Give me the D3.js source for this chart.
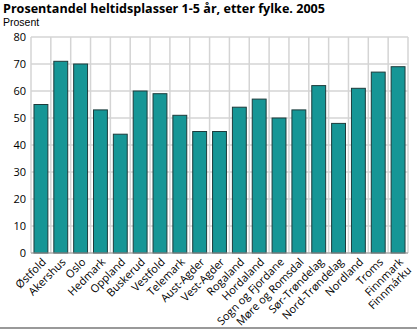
<!DOCTYPE html>
<html><head><meta charset="utf-8">
<script src="https://cdn.jsdelivr.net/npm/d3@7"></script>
<style>
body{margin:0;background:#fff;}
text{font-family:"Open Sans","DejaVu Sans",sans-serif;}
</style></head>
<body><svg id="c" width="417" height="330"></svg>
<script>
const categories = ["Østfold","Akershus","Oslo","Hedmark","Oppland","Buskerud","Vestfold","Telemark","Aust-Agder","Vest-Agder","Rogaland","Hordaland","Sogn og Fjordane","Møre og Romsdal","Sør-Trøndelag","Nord-Trøndelag","Nordland","Troms","Finnmark\nFinnmárku"];
const values = [55,71,70,53,44,60,59,51,45,45,54,57,50,53,62,48,61,67,69];
const yTicks = [0,10,20,30,40,50,60,70,80];

const svg = d3.select("#c");
const m = {l:31, r:408, t:37, b:253};
const x = d3.scaleBand().domain(categories).range([m.l, m.r]).paddingInner(0.3).paddingOuter(0.15);
const y = d3.scaleLinear().domain([0,80]).range([m.b, m.t]);

svg.append("text").attr("x",3).attr("y",12.5).attr("font-size",13).attr("font-weight","bold").attr("fill","#000")
  .attr("textLength",322).attr("lengthAdjust","spacingAndGlyphs")
  .text("Prosentandel heltidsplasser 1-5 år, etter fylke. 2005");
svg.append("text").attr("x",3).attr("y",26).attr("font-size",10.5).attr("fill","#000")
  .style("font-family","'Liberation Sans',Arial,sans-serif").text("Prosent");

// grid
const step = (m.r - m.l)/categories.length;
const g = svg.append("g");
g.selectAll("line.h").data(yTicks).join("line")
  .attr("x1",m.l).attr("x2",m.r).attr("y1",d=>y(d)).attr("y2",d=>y(d))
  .attr("stroke","#d4d4d4").attr("stroke-width",1.5);
g.selectAll("line.v").data(d3.range(categories.length+1)).join("line")
  .attr("x1",i=>m.l+i*step).attr("x2",i=>m.l+i*step).attr("y1",m.t).attr("y2",m.b)
  .attr("stroke","#d4d4d4").attr("stroke-width",1.5);

// y axis labels
const ya = svg.append("g").attr("transform",`translate(${m.l},0)`)
  .call(d3.axisLeft(y).tickValues(yTicks).tickSize(0).tickPadding(5));
ya.select(".domain").remove();
ya.selectAll("text").attr("font-size",11).attr("fill","#000").style("font-family","'Open Sans','DejaVu Sans',sans-serif");

// bars
svg.append("g").selectAll("rect").data(values).join("rect")
  .attr("x",(d,i)=>x(categories[i])).attr("width",x.bandwidth())
  .attr("y",d=>y(d)).attr("height",d=>y(0)-y(d))
  .attr("fill","#169696").attr("stroke","#1d3b3b").attr("stroke-width",1);

// baseline
svg.append("line").attr("x1",m.l).attr("x2",m.r).attr("y1",m.b).attr("y2",m.b).attr("stroke","#999").attr("stroke-width",1);

// x labels
const xl = svg.append("g");
categories.forEach(c=>{
  const cx = x(c)+x.bandwidth()/2 + 3;
  const t = xl.append("text").attr("transform",`translate(${cx},${m.b+7}) rotate(-45)`)
    .attr("text-anchor","end").attr("font-size",11).attr("fill","#000");
  c.split("\n").forEach((line,k)=>{
    t.append("tspan").attr("x",0).attr("dy",k===0?"0.35em":"1.05em").text(line);
  });
});

// bottom rule
svg.append("line").attr("x1",0).attr("x2",417).attr("y1",328).attr("y2",328).attr("stroke","#999").attr("stroke-width",2);
</script></body></html>
